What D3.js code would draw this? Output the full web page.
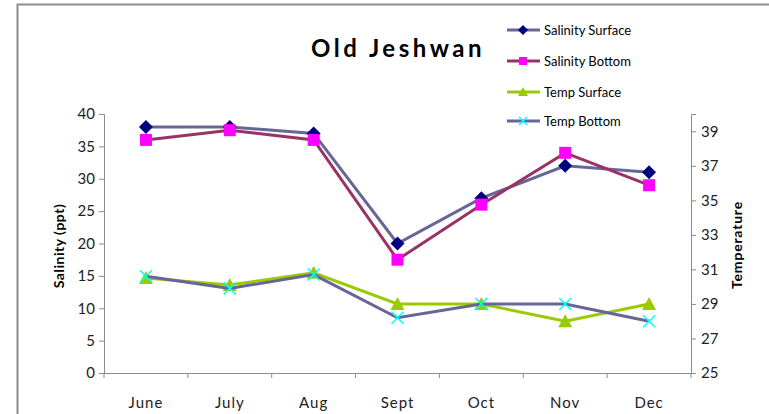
<!DOCTYPE html>
<html>
<head>
<meta charset="utf-8">
<script src="https://cdn.jsdelivr.net/npm/d3@7"></script>
<style>
    body { margin: 0; background: white; }
    svg { font-family: Lato, 'Open Sans', sans-serif; }
</style>
</head>
<body>
<div id="chart"></div>
<script>
let months = ['June', 'July', 'Aug', 'Sept', 'Oct', 'Nov', 'Dec'];
let salinitySurface = [38, 38, 37, 20, 27, 32, 31];
let salinityBottom = [36, 37.5, 36, 17.5, 26, 34, 29];
let tempSurface = [30.5, 30.1, 30.8, 29, 29, 28, 29];
let tempBottom = [30.6, 29.9, 30.7, 28.2, 29, 29, 28];
let salinityTicks = [0, 5, 10, 15, 20, 25, 30, 35, 40];
let tempTicks = [25, 27, 29, 31, 33, 35, 37, 39];

let series = [
    {name: 'Salinity Surface', values: salinitySurface, axis: 'left', line: '#666699', marker: 'diamond', fill: '#000080'},
    {name: 'Salinity Bottom', values: salinityBottom, axis: 'left', line: '#993366', marker: 'square', fill: '#ff00ff'},
    {name: 'Temp Surface', values: tempSurface, axis: 'right', line: '#99cc00', marker: 'triangle', fill: '#99cc00'},
    {name: 'Temp Bottom', values: tempBottom, axis: 'right', line: '#666699', marker: 'cross', fill: '#00ffff'}
];

let width = 769, height = 414;
let plot = {left: 104, right: 691, top: 114, bottom: 373};

let xScale = d3.scaleBand().domain(months).range([plot.left, plot.right]);
let yLeft = d3.scaleLinear().domain([0, 40]).range([plot.bottom, plot.top]);
let yRight = d3.scaleLinear().domain([25, 40]).range([plot.bottom, plot.top]);

let svg = d3.select('#chart')
    .append('svg')
    .attr('width', width)
    .attr('height', height);

// chart area border
svg.append('path')
    .attr('d', 'M17.5,' + height + 'V4.5H' + width)
    .attr('fill', 'none')
    .attr('stroke', '#8c8c8c')
    .attr('stroke-width', 2);

svg.append('text')
    .text('Old Jeshwan')
    .attr('x', 311)
    .attr('y', 57)
    .attr('font-weight', 'bold')
    .style('font-size', '24px')
    .style('letter-spacing', '3.5px')
    .attr('fill', '#000');

// axes
let leftAxis = svg.append('g')
    .attr('transform', 'translate(' + plot.left + ',0)')
    .call(d3.axisLeft(yLeft).tickValues(salinityTicks).tickSize(5).tickPadding(4));

let rightAxis = svg.append('g')
    .attr('transform', 'translate(' + plot.right + ',0)')
    .call(d3.axisRight(yRight).tickValues(tempTicks).tickSize(5).tickPadding(5));

let bottomAxis = svg.append('g')
    .attr('transform', 'translate(0,' + plot.bottom + ')')
    .call(d3.axisBottom(xScale).tickSize(0).tickPadding(24));

// category boundary ticks
svg.append('g')
    .selectAll('line')
    .data(d3.range(months.length + 1))
    .enter()
    .append('line')
    .attr('x1', d => plot.left + d * xScale.step())
    .attr('x2', d => plot.left + d * xScale.step())
    .attr('y1', plot.bottom)
    .attr('y2', plot.bottom + 5)
    .attr('stroke', '#8c8c8c');

[leftAxis, rightAxis, bottomAxis].forEach(function(a){
    a.select('.domain').attr('stroke', '#8c8c8c');
    a.selectAll('.tick line').attr('stroke', '#8c8c8c');
    a.selectAll('text')
        .attr('fill', '#222')
        .style('font-size', '15px')
        .style('font-family', 'Lato, sans-serif');
});
bottomAxis.select('.domain').attr('d', 'M' + plot.left + ',0.5H' + plot.right);
bottomAxis.selectAll('text').style('letter-spacing', '1px');

svg.append('text')
    .text('Salinity (ppt)')
    .attr('transform', 'translate(64,246) rotate(-90)')
    .attr('text-anchor', 'middle')
    .attr('font-weight', 'bold')
    .style('font-size', '14px')
    .style('letter-spacing', '0.5px');

svg.append('text')
    .text('Temperature')
    .attr('transform', 'translate(742,245) rotate(-90)')
    .attr('text-anchor', 'middle')
    .attr('font-weight', 'bold')
    .style('font-size', '14px')
    .style('letter-spacing', '0.8px');

function markerPath(type, s) {
    if (type === 'diamond') {
        return 'M0,' + (-s) + 'L' + s + ',0L0,' + s + 'L' + (-s) + ',0Z';
    }
    if (type === 'square') {
        return 'M' + (-s) + ',' + (-s) + 'H' + s + 'V' + s + 'H' + (-s) + 'Z';
    }
    if (type === 'triangle') {
        return 'M0,' + (-s - 1) + 'L' + (s + 1) + ',' + s + 'L' + (-s - 1) + ',' + s + 'Z';
    }
    return 'M' + (-s) + ',' + (-s) + 'L' + s + ',' + s + 'M' + s + ',' + (-s) + 'L' + (-s) + ',' + s;
}

function drawMarker(g, d, s) {
    g.append('path')
        .attr('d', markerPath(d.marker, s))
        .attr('fill', d.marker === 'cross' ? 'none' : d.fill)
        .attr('stroke', d.marker === 'cross' ? d.fill : 'none')
        .attr('stroke-width', 1.5);
}

series.forEach(function(d){
    let yScale = d.axis === 'left' ? yLeft : yRight;
    let line = d3.line()
        .x((v, i) => xScale(months[i]) + xScale.bandwidth() / 2)
        .y(v => yScale(v));

    svg.append('path')
        .datum(d.values)
        .attr('d', line)
        .attr('fill', 'none')
        .attr('stroke', d.line)
        .attr('stroke-width', 3);

    d.values.forEach(function(v, i){
        let g = svg.append('g')
            .attr('transform', 'translate(' + (xScale(months[i]) + xScale.bandwidth() / 2) + ',' + yScale(v) + ')');
        drawMarker(g, d, d.marker === 'diamond' ? 7 : 6);
    });
});

// legend
let legend = svg.append('g')
    .attr('id', 'legend');

legend.append('rect')
    .attr('x', 488)
    .attr('y', 12)
    .attr('width', 170)
    .attr('height', 122)
    .attr('fill', 'white');

let items = legend.selectAll('g')
    .data(series)
    .enter()
    .append('g')
    .attr('transform', (d, i) => 'translate(0,' + [30, 61, 92, 121][i] + ')');

items.append('line')
    .attr('x1', 507)
    .attr('x2', 540)
    .attr('stroke', d => d.line)
    .attr('stroke-width', 3);

items.each(function(d){
    let g = d3.select(this).append('g').attr('transform', 'translate(523,0)');
    drawMarker(g, d, d.marker === 'diamond' ? 5 : 4);
});

items.append('text')
    .text(d => d.name)
    .attr('x', 544)
    .attr('y', 5)
    .style('font-size', '13px')
    .attr('fill', '#000');
</script>
</body>
</html>
